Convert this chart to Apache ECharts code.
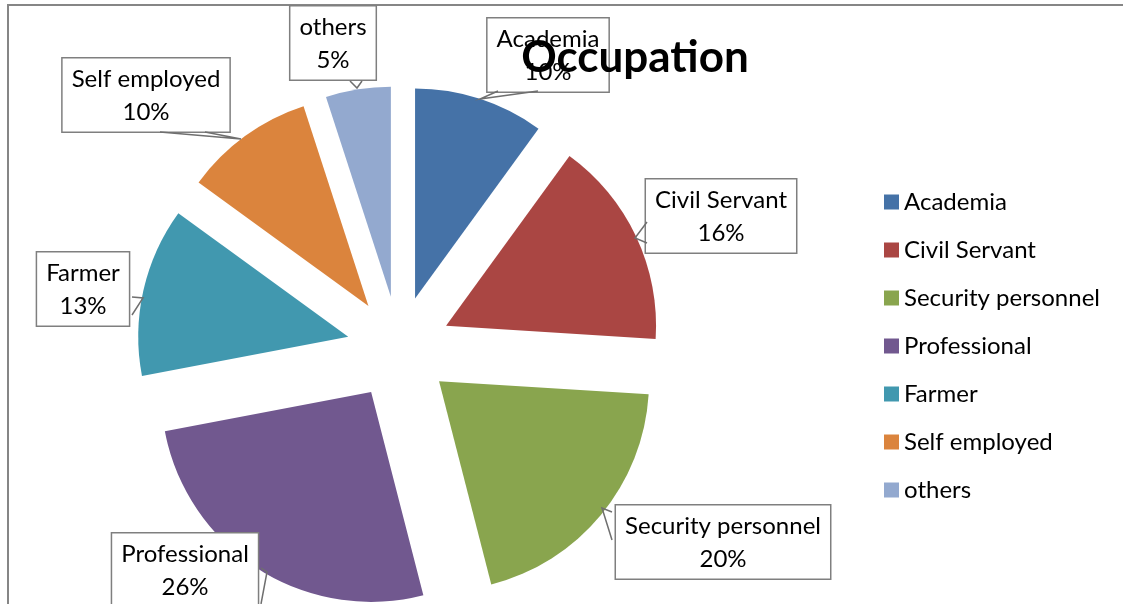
<!DOCTYPE html>
<html>
<head>
<meta charset="utf-8">
<script src="https://cdn.jsdelivr.net/npm/echarts@6/dist/echarts.min.js"></script>
<style>
  html, body { margin: 0; padding: 0; background: #fff; }
  #chart { width: 1123px; height: 604px; }
</style>
</head>
<body>
<div id="chart"></div>
<script>
var categories = ["Academia", "Civil Servant", "Security personnel", "Professional", "Farmer", "Self employed", "others"];
var values = [10, 16, 20, 26, 13, 10, 5];
var colors = ["#4572A7", "#AA4643", "#89A54E", "#71588F", "#4198AF", "#DB843D", "#93A9CF"];
// label box centres (callout placement)
var labelPos = [[548, 55], [721, 216], [723, 542], [185, 570], [83, 289], [146, 95], [333, 43]];
// callout pointer: box edge -> tip on slice -> box edge
var pointers = [
  [[498, 91], [480, 99], [538, 91]],
  [[647, 222], [635, 238], [647, 243]],
  [[612, 512], [602, 508], [612, 540]],
  [[261, 568], [267, 572], [261, 604]],
  [[132, 297], [143, 298], [132, 315]],
  [[160, 132], [241, 139], [205, 132]],
  [[350, 81], [357, 88], [362, 81]],
];

var explode = 52;
var myChart = echarts.init(document.getElementById("chart"));
var font = "Lato, 'Open Sans', sans-serif";

var total = 0;
for (var i = 0; i < values.length; i++) total += values[i];

// each slice is pulled out along its bisector; the label rides with it
function sliceShift(idx) {
  var cum = 0;
  for (var k = 0; k < idx; k++) cum += values[k];
  var mid = ((cum + values[idx] / 2) / total) * 2 * Math.PI;
  return [explode * Math.sin(mid), -explode * Math.cos(mid)];
}

var pieData = [];
for (var i = 0; i < categories.length; i++) {
  pieData.push({ name: categories[i], value: values[i], selected: true, itemStyle: { color: colors[i] } });
}

var graphics = [
  { type: "rect", shape: { x: 8, y: 5, width: 1300, height: 800 }, style: { fill: "none", stroke: "#868686", lineWidth: 2 }, silent: true },
];
for (var i = 0; i < pointers.length; i++) {
  graphics.push({ type: "polyline", z: 3, silent: true, shape: { points: pointers[i] }, style: { fill: null, stroke: "#6f6f6f", lineWidth: 1.5 } });
}

var lblText = { fontFamily: font, fontSize: 24, lineHeight: 33, color: "#000", align: "center" };

var option = {
  animation: false,
  title: {
    text: "Occupation",
    left: 630,
    top: 31,
    textAlign: "center",
    textStyle: { fontFamily: font, fontSize: 44, fontWeight: "bold", color: "#000" },
  },
  legend: {
    orient: "vertical",
    left: 884,
    top: 190,
    padding: 0,
    itemWidth: 15,
    itemHeight: 15,
    itemGap: 24,
    icon: "rect",
    selectedMode: false,
    textStyle: { fontFamily: font, fontSize: 24, color: "#000", lineHeight: 24 },
    data: categories,
  },
  graphic: graphics,
  series: [
    {
      type: "pie",
      center: [399, 348],
      radius: 210,
      startAngle: 90,
      clockwise: true,
      selectedMode: "multiple",
      selectedOffset: explode,
      percentPrecision: 0,
      avoidLabelOverlap: false,
      emphasis: { disabled: true },
      data: pieData,
      label: {
        show: true,
        position: "outside",
        formatter: "{n|{b}}\n{n|{d}%}",
        rich: { n: lblText },
        fontFamily: font,
        fontSize: 24,
        lineHeight: 33,
        color: "#000",
        backgroundColor: "#fff",
        borderColor: "#7f7f7f",
        borderWidth: 1.5,
        padding: [4, 9, 3, 9],
      },
      labelLine: { show: false },
      labelLayout: function (params) {
        var p = labelPos[params.dataIndex];
        var s = sliceShift(params.dataIndex);
        var r = params.labelRect;
        return {
          dx: p[0] - s[0] - (r.x + r.width / 2),
          dy: p[1] - s[1] - (r.y + r.height / 2),
        };
      },
    },
  ],
};
myChart.setOption(option);
window.addEventListener("resize", function () { myChart.resize(); });
</script>
</body>
</html>
